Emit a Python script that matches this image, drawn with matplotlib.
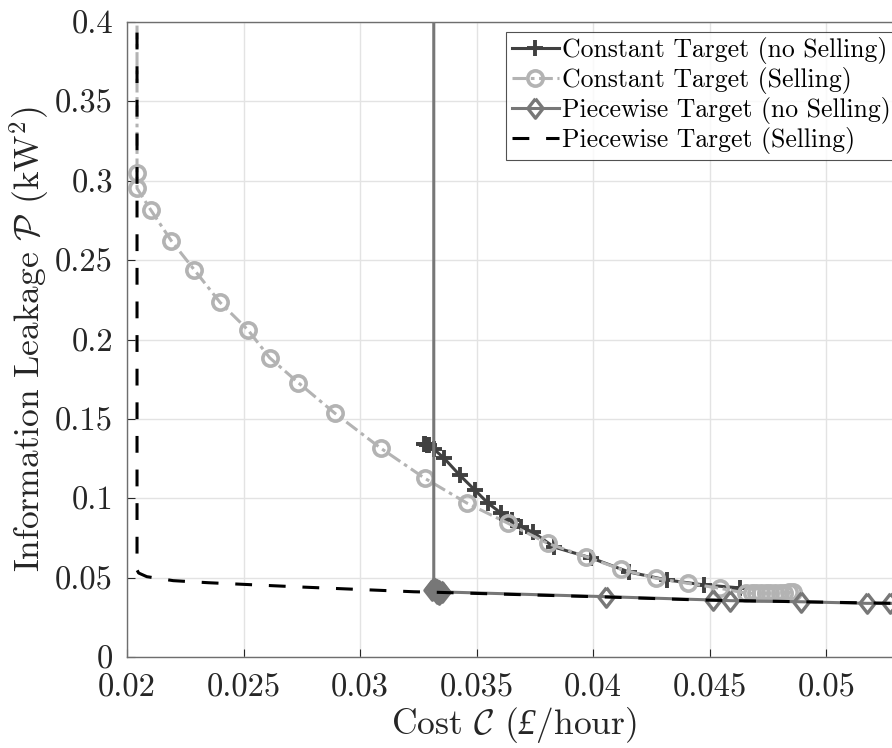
import matplotlib
matplotlib.use("Agg")
import matplotlib.pyplot as plt

plt.rcParams['font.family'] = ['cmr10', 'DejaVu Serif']
plt.rcParams['mathtext.fontset'] = 'cm'
plt.rcParams['axes.formatter.use_mathtext'] = True
# custom math fontset used only by the x label (for the italic pound sign)
plt.rcParams['mathtext.rm'] = 'Liberation Serif:italic'
plt.rcParams['mathtext.it'] = 'Liberation Serif:italic'
plt.rcParams['mathtext.cal'] = 'cmsy10'

# ---- data ----
cs_x = [0.02043, 0.02043, 0.02043, 0.02102, 0.02190, 0.02289, 0.02399, 0.02519, 0.02612,
        0.02734, 0.02893, 0.03088, 0.03277, 0.03460, 0.03635, 0.03804, 0.03969,
        0.04120, 0.04269, 0.04406, 0.04542, 0.04657, 0.04680, 0.04700, 0.04720,
        0.04740, 0.04760, 0.04780, 0.04800, 0.04820, 0.04840, 0.04858]
cs_y = [0.60, 0.3047, 0.2952, 0.2816, 0.2622, 0.2438, 0.2234, 0.2060, 0.1885,
        0.1729, 0.1534, 0.1316, 0.1126, 0.0968, 0.0842, 0.0716, 0.0632,
        0.0552, 0.0496, 0.0464, 0.0433, 0.0402, 0.0401, 0.0401, 0.0401,
        0.0401, 0.0402, 0.0403, 0.0404, 0.0405, 0.0407, 0.0410]

cn_x = [0.03272, 0.03280, 0.03288, 0.03294, 0.03316, 0.03359, 0.03427, 0.03492, 0.03548,
        0.03604, 0.03651, 0.03690, 0.03741, 0.03831, 0.03991, 0.04154, 0.04317, 0.04476,
        0.04631]
cn_y = [0.1340, 0.1342, 0.1338, 0.1335, 0.1310, 0.1254, 0.1146, 0.1052, 0.0970,
        0.0907, 0.0863, 0.0819, 0.0787, 0.0693, 0.0624, 0.0535, 0.0485, 0.0454,
        0.0435]

pn_x = [0.03316, 0.03316, 0.03325, 0.03310, 0.03335, 0.03345, 0.03330, 0.03340,
        0.03350, 0.04055, 0.04514, 0.04585, 0.04893, 0.05173, 0.05273, 0.05400]
pn_y = [0.60, 0.0435, 0.0430, 0.0420, 0.0425, 0.0415, 0.0405, 0.0400,
        0.0410, 0.0380, 0.0359, 0.0355, 0.0348, 0.0338, 0.0338, 0.0335]

ps_x = [0.02043, 0.02043, 0.02050, 0.02085, 0.02198, 0.02348, 0.02744, 0.03230,
        0.03316, 0.04055, 0.04463, 0.04893, 0.05400]
ps_y = [0.60, 0.0548, 0.0529, 0.0506, 0.0481, 0.0468, 0.0441, 0.0411,
        0.0408, 0.0378, 0.0359, 0.0348, 0.0335]

labels = ['Constant Target (no Selling)', 'Constant Target (Selling)',
          'Piecewise Target (no Selling)', 'Piecewise Target (Selling)']

xticks = [0.02, 0.025, 0.03, 0.035, 0.04, 0.045, 0.05]
xticklabels = ['0.02', '0.025', '0.03', '0.035', '0.04', '0.045', '0.05']
yticks = [0, 0.05, 0.1, 0.15, 0.2, 0.25, 0.3, 0.35, 0.4]
yticklabels = ['0', '0.05', '0.1', '0.15', '0.2', '0.25', '0.3', '0.35', '0.4']

fig = plt.figure(figsize=(8.92, 7.48), dpi=100)
ax = fig.add_axes([127/892, 91/748, 1 - 127/892 + 0.01, 635/748])

diamond = [(0, 1), (0.78, 0), (0, -1), (-0.78, 0), (0, 1)]

lw = 2.2
ax.plot(cn_x, cn_y, color='#404040', lw=lw, ls='-', marker='+', ms=12, mew=2.8,
        label=labels[0], zorder=3)
ax.plot(cs_x, cs_y, color='#b3b3b3', lw=lw, ls=(0, (4.5, 1.5, 1.2, 1.5)), marker='o', ms=11,
        mew=2.6, mfc='none', label=labels[1], zorder=4)
ax.plot(pn_x, pn_y, color='#777777', lw=lw, ls='-', marker=diamond, ms=14, mew=2.4,
        mfc='none', label=labels[2], zorder=5)
ax.plot(ps_x, ps_y, color='black', lw=lw, ls=(0, (5.5, 5.5)), label=labels[3], zorder=6)

ax.set_xlim(0.02, 0.0532)
ax.set_ylim(0, 0.4)
ax.set_xticks(xticks)
ax.set_xticklabels(xticklabels)
ax.set_yticks(yticks)
ax.set_yticklabels(yticklabels)
ax.tick_params(direction='in', length=6, width=0.8, color='#262626', labelsize=23.5,
               labelcolor='#262626')
ax.tick_params(axis='x', pad=12)
ax.tick_params(axis='y', pad=10)
ax.grid(True, color='#e3e3e3', lw=1.0)
ax.set_axisbelow(True)
for s in ax.spines.values():
    s.set_color('#6e6e6e')
    s.set_linewidth(1.0)

ax.set_xlabel('Cost $\\mathcal{C}$ ($£$/hour)', fontsize=25.5, color='#262626',
              labelpad=2, math_fontfamily='custom')
ax.set_ylabel('Information Leakage $\\mathcal{P}$ (kW$^2$)', fontsize=25.5, color='#262626',
              labelpad=3)

leg = ax.legend(loc='upper right', bbox_to_anchor=(1.004, 1 - 32/748), bbox_transform=fig.transFigure,
                fontsize=18.5, frameon=True, fancybox=False, edgecolor='#262626',
                handlelength=1.85, handletextpad=0.1, borderpad=0.2, labelspacing=0.12,
                borderaxespad=0.0)
leg.get_frame().set_linewidth(0.8)
fig.savefig('out.png', dpi=100)
